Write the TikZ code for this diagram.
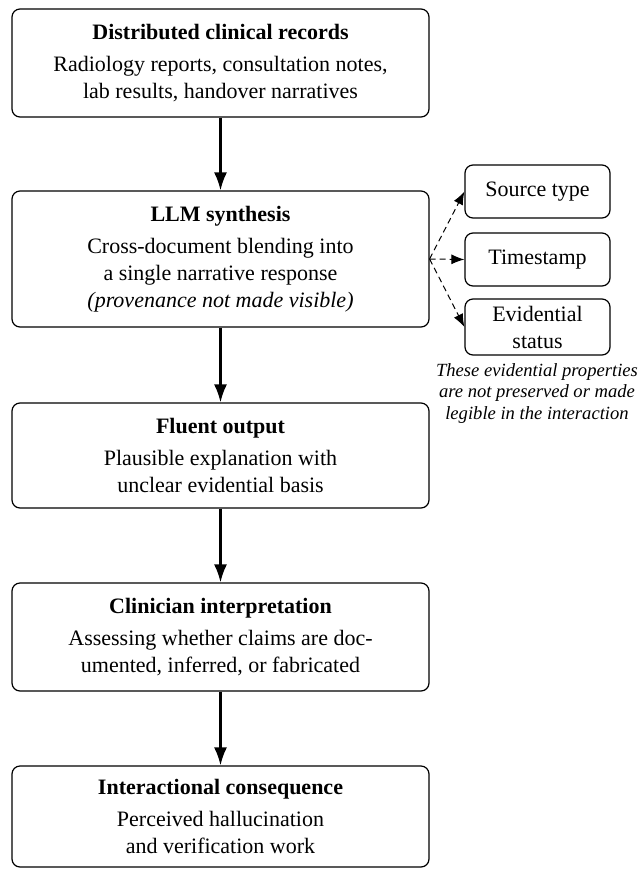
\documentclass[tikz,border=0pt]{standalone}
\usepackage{fontspec}
\setmainfont{Liberation Serif}
\usetikzlibrary{arrows.meta}
\begin{document}
\begin{tikzpicture}[x=0.5pt,y=-0.5pt,
  mainbox/.style={draw, line width=0.6pt, rounded corners=4pt, minimum width=208.5pt,
    align=center, inner sep=0pt, font=\fontsize{11}{13.5}\selectfont},
  sidebox/.style={draw, line width=0.6pt, rounded corners=4pt, minimum width=72.5pt,
    align=center, inner sep=0pt, font=\fontsize{11}{13.5}\selectfont},
  flow/.style={line width=1.1pt, -{Latex[length=9pt,width=6.5pt]}},
  side/.style={line width=0.5pt, dash pattern=on 3pt off 2pt, -{Latex[length=6.5pt,width=5pt]}},
  note/.style={align=center, inner sep=0pt, font=\fontsize{9.3}{10.8}\selectfont\itshape}
]
\useasboundingbox (0,0) rectangle (638,869);

\node[mainbox, minimum height=54pt] (b1) at (220.5,63)
  {\textbf{Distributed clinical records}\\[2.5pt]
   Radiology reports, consultation notes,\\
   lab results, handover narratives};
\node[mainbox, minimum height=68pt] (b2) at (220.5,259)
  {\textbf{LLM synthesis}\\[2.5pt]
   Cross-document blending into\\
   a single narrative response\\
   \textit{(provenance not made visible)}};
\node[mainbox, minimum height=52.5pt] (b3) at (220.5,455.5)
  {\textbf{Fluent output}\\[2.5pt]
   Plausible explanation with\\
   unclear evidential basis};
\node[mainbox, minimum height=54pt] (b4) at (220.5,637)
  {\textbf{Clinician interpretation}\\[2.5pt]
   Assessing whether claims are doc-\\
   umented, inferred, or fabricated};
\node[mainbox, minimum height=50.5pt] (b5) at (220.5,816.5)
  {\textbf{Interactional consequence}\\[2.5pt]
   Perceived hallucination\\
   and verification work};

\node[sidebox, minimum height=26.5pt] (s1) at (537.5,191.5) {Source type};
\node[sidebox, minimum height=26.5pt] (s2) at (537.5,259.5) {Timestamp};
\node[sidebox, minimum height=28pt] (s3) at (537.5,327) {Evidential\\status};

\node[note, anchor=north] (cap) at (537,363)
  {These evidential properties\\
   are not preserved or made\\
   legible in the interaction};

\draw[flow] (b1) -- (b2);
\draw[flow] (b2) -- (b3);
\draw[flow] (b3) -- (b4);
\draw[flow] (b4) -- (b5);

\draw[side] (b2.east) -- (s1.west);
\draw[side] (b2.east) -- (s2.west);
\draw[side] (b2.east) -- (s3.west);
\end{tikzpicture}
\end{document}
